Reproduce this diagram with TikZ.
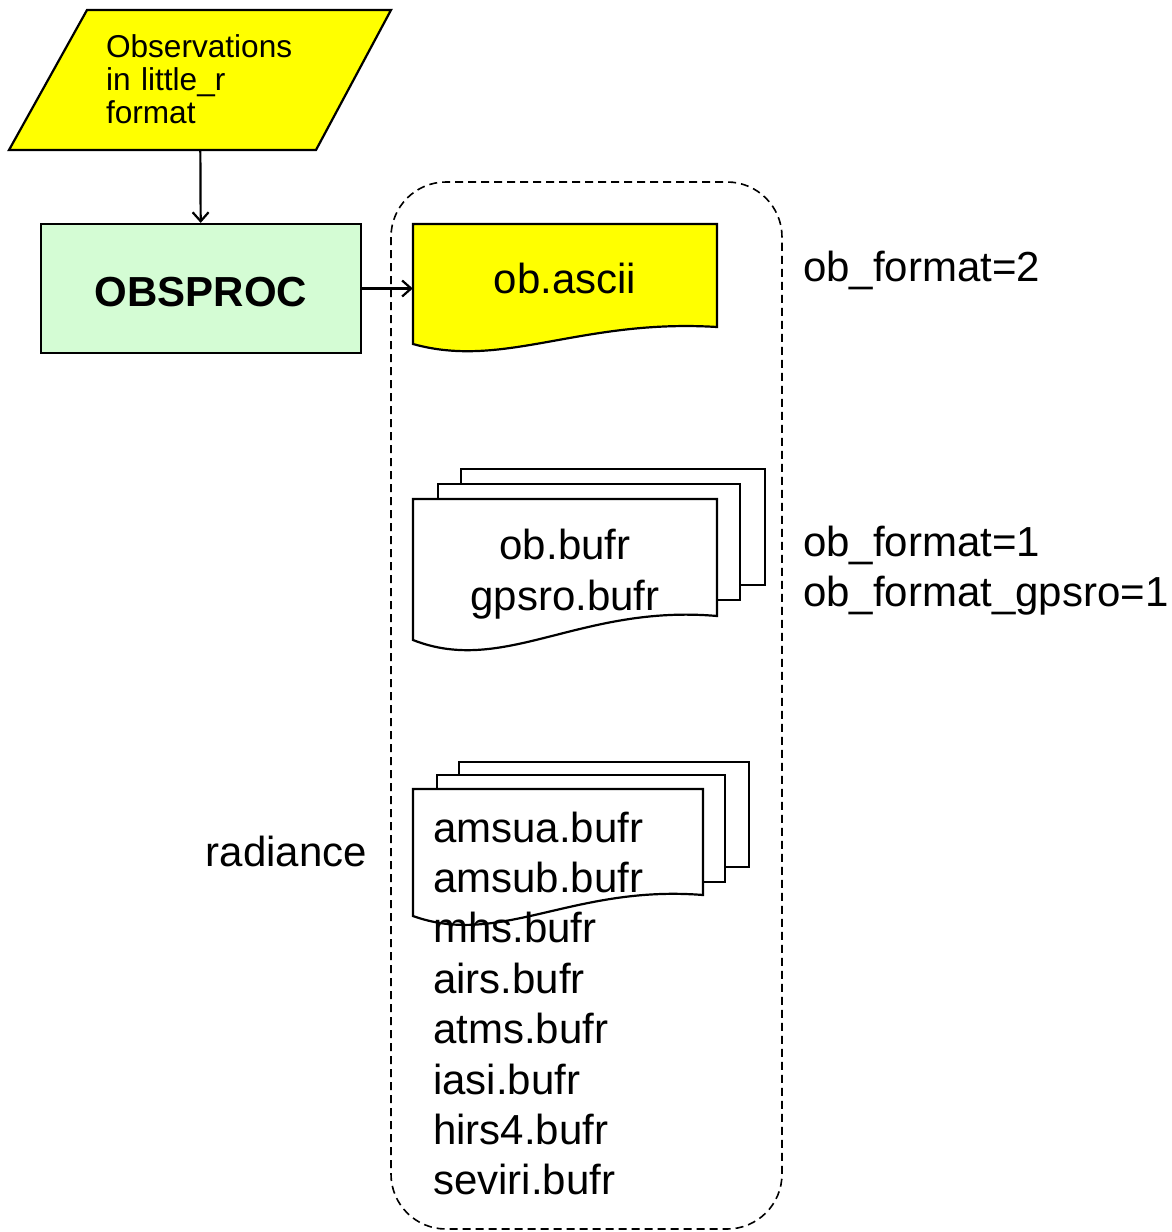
\documentclass[tikz,border=0pt]{standalone}
\usepackage{fontspec}
\setmainfont{Liberation Sans}
\usetikzlibrary{positioning, arrows.meta}

\definecolor{inputyellow}{RGB}{255,255,0}
\definecolor{procgreen}{RGB}{212,252,212}

% sheet with wavy bottom: left, top, right, bottom (right side), drop at left
\newcommand{\docsheet}[5]{(#1,#2) -- (#3,#2) -- (#3,#4)
  .. controls ({#1+0.55*(#3-#1)},{#4-0.5*#5}) and ({#1+0.3*(#3-#1)},{#4+2.5*#5}) .. (#1,{#4+#5}) -- cycle}

\begin{document}
\begin{tikzpicture}[x=1pt, y=-1pt,
    outline/.style={draw, line width=2.2pt, line join=miter},
    bigtext/.style={inner sep=0pt, font=\fontsize{42}{50.4}\selectfont},
    smalltext/.style={inner sep=0pt, font=\fontsize{31.6}{33}\selectfont},
    link/.style={line width=2.2pt, -{Straight Barb[length=9pt, width=16pt, line width=2.2pt]}},
    grouping/.style={line width=1.6pt, dash pattern=on 8pt off 5pt, rounded corners=55pt}]
    \useasboundingbox (0,0) rectangle (1171,1232);
    % input and obsproc
    \draw[outline, fill=inputyellow] (87,10) -- (391,10) -- (316,150) -- (9,150) -- cycle;
    \node[smalltext, align=left, text width=188pt, minimum height=140pt] (obs) at (200,79.5) {Observations\\in little\_r\\format};
    \node[outline, fill=procgreen, minimum width=320pt, minimum height=129pt, text height=37pt, font=\fontsize{42}{50}\selectfont\bfseries] (obsproc) at (201,288.5) {OBSPROC};
    \draw[link] (obs) -- (obsproc);

    % output files
    \draw[grouping] (391,182) rectangle (782,1229);
    \draw[outline, fill=inputyellow] \docsheet{413}{224}{717}{327}{17};
    \node[bigtext, minimum width=304pt, minimum height=103pt, text height=36pt] (ascii) at (565,275.5) {ob.ascii};
    \draw[link] (obsproc.east) -- (obsproc.east -| ascii.west);

    \draw[outline, fill=white] (461,469) rectangle (765,585);
    \draw[outline, fill=white] (438,484) rectangle (740,600);
    \draw[outline, fill=white] \docsheet{413}{499}{717}{616}{24};
    \node[bigtext, align=center] (bufr) at (565,574) {ob.bufr\\gpsro.bufr};

    \draw[outline, fill=white] (459,762) rectangle (749,867);
    \draw[outline, fill=white] (437,775) rectangle (725,882);
    \draw[outline, fill=white] \docsheet{413}{789}{703}{895}{21};
    \node[bigtext, align=left, anchor=base west] (rad) at (433,1194.8) {amsua.bufr\\amsub.bufr\\mhs.bufr\\airs.bufr\\atms.bufr\\iasi.bufr\\hirs4.bufr\\seviri.bufr};

    % namelist settings
    \node[bigtext, anchor=base west] (fmt2) at (803,281.7) {ob\_format=2};
    \node[bigtext, align=left, anchor=base west] (fmt1) at (803,606.7) {ob\_format=1\\ob\_format\_gpsro=1};
    \node[bigtext, anchor=base east] (radlbl) at (367,866.7) {radiance};
\end{tikzpicture}
\end{document}
